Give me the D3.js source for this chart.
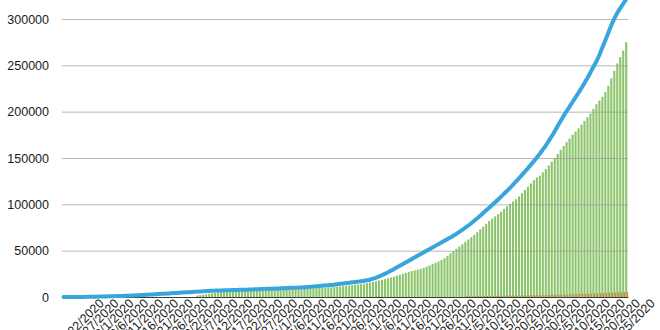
<!DOCTYPE html>
<html><head><meta charset="utf-8">
<script src="https://cdn.jsdelivr.net/npm/d3@7"></script>
<style>html,body{margin:0;padding:0;background:#fff;overflow:hidden}</style>
</head><body>
<svg id="c" width="660" height="330"></svg>
<script>
const startDate = "2020-01-22";
const yTicks = [0, 50000, 100000, 150000, 200000, 250000, 300000];
const tickLabels = ["1/22/2020","1/27/2020","2/1/2020","2/6/2020","2/11/2020","2/16/2020","2/21/2020","2/26/2020","3/2/2020","3/7/2020","3/12/2020","3/17/2020","3/22/2020","3/27/2020","4/1/2020","4/6/2020","4/11/2020","4/16/2020","4/21/2020","4/26/2020","5/1/2020","5/6/2020","5/11/2020","5/16/2020","5/21/2020","5/26/2020","5/31/2020","6/5/2020","6/10/2020","6/15/2020","6/20/2020","6/25/2020","6/30/2020","7/5/2020","7/10/2020","7/15/2020","7/20/2020","7/25/2020"];
const tickEvery = 5;

const totalLine = [
0,5,10,20,30,50,80,120,170,230,
300,370,450,540,630,720,820,920,1020,1110,
1200,1340,1480,1630,1790,1950,2110,2280,2450,2620,
2800,3000,3200,3400,3600,3800,4000,4200,4400,4600,
4800,5000,5200,5400,5600,5800,6000,6200,6400,6600,
6800,6900,7000,7100,7200,7300,7400,7500,7600,7700,
7800,7900,8000,8100,8250,8400,8550,8700,8800,8900,
9000,9100,9250,9400,9550,9700,9850,10000,10100,10200,
10300,10550,10800,11050,11300,11600,11900,12200,12500,12750,
13000,13400,13800,14200,14600,15000,15400,15800,16200,16600,
17000,17500,18100,18900,19900,21000,22300,23700,25200,26800,
28500,30300,32100,33900,35700,37500,39300,41100,42900,44700,
46500,48300,50100,51900,53700,55500,57300,59100,60900,62700,
64500,66400,68400,70500,72700,75000,77400,79900,82500,85200,
88000,90900,93800,96700,99600,102500,105500,108600,111700,114800,
118000,121500,125000,128500,132000,135700,139400,143100,146900,150900,
155000,159500,164000,169000,174000,179500,185000,190500,196000,201000,
206000,211000,216000,221000,226000,231500,237000,243000,249000,255000,
262000,270000,278000,286000,294000,301000,307000,312000,317000,322000];

const greenBars = [
0,0,0,0,0,0,0,0,0,0,
0,0,0,0,0,0,0,0,0,0,
0,0,0,0,0,0,0,0,0,0,
0,0,0,0,0,0,0,0,0,0,
0,0,0,0,0,1500,2000,2500,3000,3500,
4000,4500,5000,5500,5700,5900,6100,6300,6400,6500,
6600,6700,6800,6900,7000,7100,7200,7300,7400,7500,
7600,7700,7800,7900,8000,8100,8200,8350,8500,8650,
8800,8950,9100,9250,9400,9550,9700,9900,10100,10300,
10500,10800,11100,11400,11700,12000,12400,12800,13200,13600,
14000,14500,15000,15600,16200,17000,17800,18500,19300,20200,
21000,22000,23000,24000,25000,26000,27000,28000,28800,29500,
30300,31400,32600,34000,35500,37000,38500,40000,42000,44500,
47000,49500,52000,54500,57000,59500,62000,64500,67000,70000,
73000,76000,79000,82000,84500,87000,89500,92000,95000,98000,
100500,103000,105500,108500,112000,115500,119000,122500,126000,129000,
131000,134500,138000,142000,146000,150000,154500,159000,163000,167000,
171000,175000,178500,182000,186000,190000,194000,198000,203000,208000,
212000,216000,221000,228000,236000,244000,252000,259000,266000,275000];

const orangeBars = [
0,0,0,0,0,0,0,0,0,0, 0,0,0,0,0,0,0,0,0,0,
0,0,0,0,0,0,0,0,0,0, 0,0,0,0,0,0,0,0,0,0,
0,0,0,0,0,0,0,0,0,0, 0,0,0,0,0,0,0,0,0,0,
0,0,0,0,0,0,0,0,0,0, 0,0,0,0,0,0,0,0,0,0,
0,0,0,0,0,0,0,0,0,0, 0,0,0,0,0,0,0,0,0,0,
0,0,0,0,0,0,0,0,0,0, 0,0,0,0,0,0,0,0,0,0,
0,0,0,0,0,0,0,0,0,0, 0,0,0,0,0,
700,750,800,850,900,950,1000,1050,1100,1150,1200,1250,1300,1350,1400,
1450,1500,1550,1600,1650,1700,1750,1800,1850,1900,
2000,2100,2200,2300,2400,2500,2600,2700,2800,2900,
3000,3100,3200,3300,3400,3500,3600,3700,3800,3900,
4100,4300,4500,4700,4800,4900,5000,5100,5200,5300];

const N = totalLine.length;
const t0 = new Date(startDate + "T00:00:00");
const categories = d3.timeDay.range(t0, d3.timeDay.offset(t0, N));

const svg = d3.select("#c");
const mLeft = 62, mRight = 628, mTop = 19, mBottom = 297;
const x = d3.scaleBand().domain(d3.range(N)).range([mLeft, mRight]).paddingInner(0).paddingOuter(0);
const y = d3.scaleLinear().domain([0, 300000]).range([mBottom, mTop]);
const fmt = d3.format("d");
const FONT = "'Liberation Sans', Arial, Helvetica, sans-serif";

// y labels
const yAxis = d3.axisLeft(y).tickValues(yTicks).tickFormat(fmt).tickSize(0).tickPadding(13);
const gy = svg.append("g").attr("transform", `translate(${mLeft},0)`).call(yAxis);
gy.select(".domain").remove();
gy.selectAll("text").attr("font-family", FONT).attr("font-size", "12.5px").attr("fill", "#1a1a1a");

// bars
const bw = x.bandwidth();
svg.append("g").selectAll("rect").data(greenBars).join("rect")
  .attr("x", (d, i) => x(i) + bw * 0.05)
  .attr("width", bw * 0.7)
  .attr("y", d => y(d))
  .attr("height", d => mBottom - y(d))
  .attr("fill", "#8cc46c");
svg.append("g").selectAll("rect").data(orangeBars).join("rect")
  .attr("x", (d, i) => x(i) + bw * 0.6)
  .attr("width", bw * 0.4)
  .attr("y", d => y(d))
  .attr("height", d => mBottom - y(d))
  .attr("fill", "#e2793a");

// grid
const grid = d3.axisLeft(y).tickValues(yTicks.filter(v => v > 0)).tickSize(-(mRight - mLeft)).tickFormat("");
const gg = svg.append("g").attr("transform", `translate(${mLeft},0)`).call(grid);
gg.select(".domain").remove();
gg.selectAll("line").attr("stroke", "#9a9a9a").attr("stroke-opacity", 0.7).attr("stroke-width", 1);

// x axis
const xAxis = d3.axisBottom(x)
  .tickValues(d3.range(0, N, tickEvery).slice(0, tickLabels.length))
  .tickFormat((d, i) => tickLabels[i]).tickSize(0);
const gx = svg.append("g").attr("transform", `translate(0,${mBottom})`).call(xAxis);
gx.select(".domain").attr("stroke", "#3a3a3a").attr("stroke-width", 1.2);
gx.selectAll("text")
  .attr("font-family", FONT)
  .attr("font-size", "12.5px").attr("fill", "#1a1a1a")
  .attr("text-anchor", "end")
  .attr("y", 0).attr("dy", "0.35em")
  .attr("transform", "translate(38,4) rotate(-45)");

// line
const line = d3.line().x((d, i) => x(i) + bw / 2).y(d => y(d)).curve(d3.curveMonotoneX);
svg.append("path").datum(totalLine).attr("d", line)
  .attr("fill", "none").attr("stroke", "#38a6dc").attr("stroke-width", 4)
  .attr("stroke-linejoin", "round").attr("stroke-linecap", "round");
</script>
</body></html>
